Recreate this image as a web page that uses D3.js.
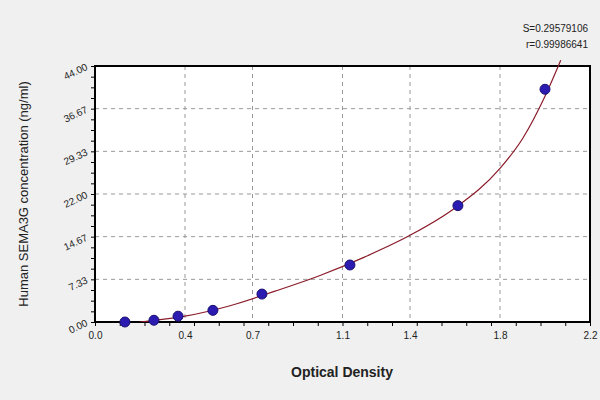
<!DOCTYPE html>
<html><head><meta charset="utf-8">
<script src="https://cdn.jsdelivr.net/npm/d3@7"></script>
<style>body{margin:0;background:#f0f0f0}svg{display:block;font-family:Arial,"Liberation Sans",sans-serif}</style>
</head><body>
<script>
const xTicks = [0.0, 0.4, 0.7, 1.1, 1.4, 1.8, 2.2]
const yTicks = [0, 7.33, 14.67, 22.00, 29.33, 36.67, 44.00]
const odValues = [0.133, 0.262, 0.369, 0.524, 0.742, 1.133, 1.613, 2.0]
const concValues = [0, 0.3, 1.0, 2.0, 4.8, 9.8, 20, 40]
const curveX = [0.2, 0.4, 0.6, 0.8, 1.0, 1.2, 1.4, 1.6, 1.8, 1.9, 2.0, 2.07]
const curveY = [0, 1.0, 2.8, 5.3, 8.0, 11.2, 14.9, 19.6, 26.4, 31.5, 38.8, 45]

const margin = { top: 66, right: 10, bottom: 78, left: 95 }
const width = 600 - margin.left - margin.right
const height = 400 - margin.top - margin.bottom

const svg = d3.select("body").append("svg").attr("width", 600).attr("height", 400)
const g = svg.append("g").attr("transform", `translate(${margin.left}, ${margin.top})`)

const x = d3.scaleLinear().domain([0, 2.2]).range([0, width])
const y = d3.scaleLinear().domain([0, 44]).range([height, 0])

g.append("rect").attr("width", width).attr("height", height).attr("fill", "white")

// gridlines
g.selectAll(".xg").data(xTicks.slice(1, -1)).join("line")
    .attr("x1", d => x(d)).attr("x2", d => x(d)).attr("y1", 0).attr("y2", height)
    .attr("stroke", "#999").attr("stroke-dasharray", "4,4")
g.selectAll(".yg").data(yTicks.slice(1, -1)).join("line")
    .attr("y1", d => y(d)).attr("y2", d => y(d)).attr("x1", 0).attr("x2", width)
    .attr("stroke", "#999").attr("stroke-dasharray", "4,4")

// x axis with minor ticks
const xMinor = d3.range(0, 2.2001, 0.11)
g.append("g").attr("transform", `translate(0, ${height})`)
    .call(d3.axisBottom(x).tickValues(xMinor).tickSize(4).tickFormat(""))
    .call(a => a.select(".domain").remove())
g.append("g").attr("transform", `translate(0, ${height})`)
    .call(d3.axisBottom(x).tickValues(xTicks).tickSize(0).tickPadding(10).tickFormat(d3.format(".1f")))
    .call(a => a.select(".domain").remove())
    .selectAll("text").style("font-size", "10px").attr("fill", "#222")

// y axis with minor ticks
const yMinor = d3.range(0, 44.001, 44 / 24)
g.append("g")
    .call(d3.axisLeft(y).tickValues(yMinor).tickSize(4).tickFormat(""))
    .call(a => a.select(".domain").remove())
g.append("g")
    .call(d3.axisLeft(y).tickValues(yTicks).tickSize(0).tickPadding(8).tickFormat(d3.format(".2f")))
    .call(a => a.select(".domain").remove())
    .selectAll("text").style("font-size", "10px").attr("fill", "#222")
    .attr("transform", "rotate(-25, -8, 0)")

g.append("rect").attr("width", width).attr("height", height)
    .attr("fill", "none").attr("stroke", "black").attr("stroke-width", 2)

// fitted curve
const curve = curveX.map((v, i) => [v, curveY[i]])
svg.append("clipPath").attr("id", "clip").append("rect")
    .attr("x", 0).attr("y", -10).attr("width", width).attr("height", height + 10)
g.append("path").datum(curve).attr("clip-path", "url(#clip)")
    .attr("fill", "none").attr("stroke", "#8b1c2a").attr("stroke-width", 1.2)
    .attr("d", d3.line().x(d => x(d[0])).y(d => y(d[1])).curve(d3.curveMonotoneX))

// points
g.selectAll(".pt").data(odValues).join("circle")
    .attr("cx", d => x(d)).attr("cy", (d, i) => y(concValues[i]))
    .attr("r", 5).attr("fill", "#2b1bb0").attr("stroke", "#1a1070")

svg.append("text").attr("x", 342).attr("y", 377).attr("text-anchor", "middle")
    .style("font-size", "14px").style("font-weight", "bold").attr("fill", "#222")
    .text("Optical Density")
svg.append("text").attr("transform", "rotate(-90)").attr("x", -194).attr("y", 28)
    .attr("text-anchor", "middle").style("font-size", "13px").attr("fill", "#222")
    .text("Human SEMA3G concentration (ng/ml)")

svg.append("text").attr("x", 588).attr("y", 32).attr("text-anchor", "end")
    .style("font-size", "10px").attr("fill", "#222").text("S=0.29579106")
svg.append("text").attr("x", 588).attr("y", 48).attr("text-anchor", "end")
    .style("font-size", "10px").attr("fill", "#222").text("r=0.99986641")
</script>
</body></html>
